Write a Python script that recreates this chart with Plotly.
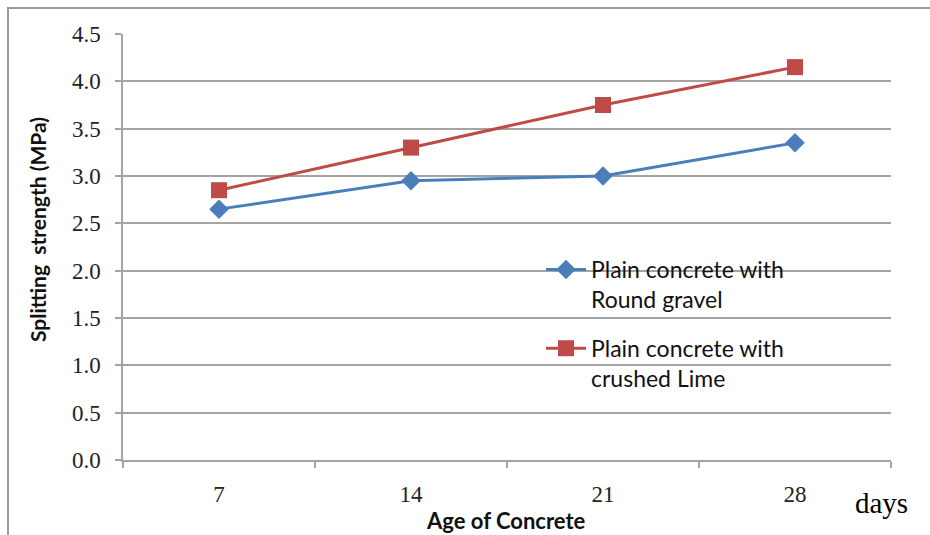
import plotly.graph_objects as go

# Age of concrete (days) and splitting tensile strength (MPa)
ages = ["7", "14", "21", "28"]
round_gravel = [2.65, 2.95, 3.00, 3.35]
crushed_lime = [2.85, 3.30, 3.75, 4.15]
y_ticks = [0.0, 0.5, 1.0, 1.5, 2.0, 2.5, 3.0, 3.5, 4.0, 4.5]

W, H = 930, 535
L, R, T, B = 123, 39, 34, 75
pw, ph = W - L - R, H - T - B

def px(x):
    return (x - L) / pw

def py(y):
    return (H - B - y) / ph

BLUE = "#4A7EBB"
RED = "#BE4B48"
GRID = "#A3A3A3"
NUM_FONT = "Liberation Serif"
SANS = "Lato"

fig = go.Figure()
fig.add_trace(go.Scatter(
    x=ages, y=round_gravel, mode="lines+markers",
    name="Plain concrete with<br>Round gravel", legendgroup="gravel",
    line=dict(color=BLUE, width=3),
    marker=dict(symbol="diamond", size=15, color=BLUE),
))
fig.add_trace(go.Scatter(
    x=ages, y=crushed_lime, mode="lines+markers",
    name="Plain concrete with<br>crushed Lime", legendgroup="lime",
    line=dict(color=RED, width=3),
    marker=dict(symbol="square", size=16, color=RED),
))

fig.update_layout(
    width=W, height=H,
    margin=dict(l=L, r=R, t=T, b=B),
    paper_bgcolor="white", plot_bgcolor="white",
    showlegend=True,
    legend=dict(
        x=px(541), y=py(248), xanchor="left", yanchor="top",
        bgcolor="rgba(0,0,0,0)", valign="top",
        font=dict(family=SANS, size=23, color="#111111"),
        tracegroupgap=16, itemwidth=40,
    ),
    xaxis=dict(
        type="category", tickson="boundaries",
        showgrid=False, showline=True, linecolor=GRID, linewidth=1.5,
        ticks="outside", ticklen=6, tickcolor=GRID, tickwidth=1.5,
        tickfont=dict(family=NUM_FONT, size=23, color="#222222"),
        ticklabelstandoff=13,
        range=[-0.5, 3.5], zeroline=False,
    ),
    yaxis=dict(
        range=[0, 4.5], tickvals=y_ticks,
        ticktext=[f"{v:.1f}" for v in y_ticks],
        showgrid=True, gridcolor=GRID, gridwidth=1.5,
        showline=True, linecolor=GRID, linewidth=1.5,
        ticks="outside", ticklen=6, tickcolor=GRID, tickwidth=1.5,
        tickfont=dict(family=NUM_FONT, size=23, color="#222222"),
        ticklabelstandoff=10, zeroline=False,
    ),
)

# Axis titles
fig.add_annotation(
    text="<b>Splitting  strength (MPa)</b>", textangle=-90,
    x=px(37), y=py(230), xref="paper", yref="paper",
    xanchor="center", yanchor="middle", showarrow=False,
    font=dict(family=SANS, size=21, color="#111111"),
)
fig.add_annotation(
    text="<b>Age of Concrete</b>",
    x=px(506), y=py(520), xref="paper", yref="paper",
    xanchor="center", yanchor="middle", showarrow=False,
    font=dict(family=SANS, size=22, color="#111111"),
)
fig.add_annotation(
    text="days",
    x=px(853), y=py(503), xref="paper", yref="paper",
    xanchor="left", yanchor="middle", showarrow=False,
    font=dict(family=NUM_FONT, size=29, color="#000000"),
)

# Chart frame
fig.add_shape(
    type="rect", xref="paper", yref="paper",
    x0=px(8), y0=py(560), x1=px(960), y1=py(8),
    line=dict(color="#9A9A9A", width=2), fillcolor="rgba(0,0,0,0)",
    layer="below",
)

fig.write_html("out.html")
